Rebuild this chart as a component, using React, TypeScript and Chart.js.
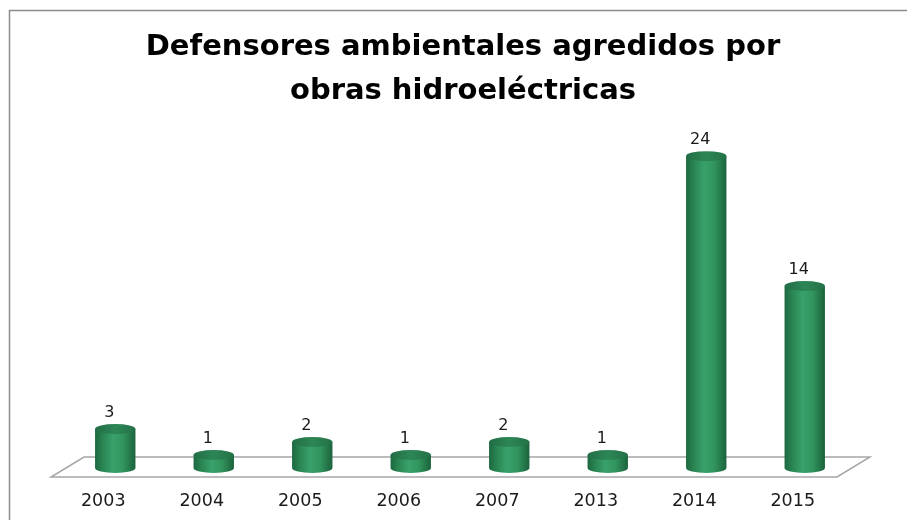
import React, { useEffect, useRef } from "react";
import { Chart, registerables } from "chart.js";

Chart.register(...registerables);

const categories = ["2003", "2004", "2005", "2006", "2007", "2013", "2014", "2015"];
const values = [3, 1, 2, 1, 2, 1, 24, 14];
const titleLines = ["Defensores ambientales agredidos por", "obras hidroeléctricas"];
const yMax = 27;

const DEPTH_X = 33;
const DEPTH_Y = -20;
const BAR_DX = 12;
const BAR_DY = -9;
const TITLE_SHIFT = 15;
const FONT = "'DejaVu Sans', Verdana, sans-serif";

const frame = {
  id: "frame",
  beforeDraw(chart: any) {
    const ctx = chart.ctx;
    ctx.save();
    ctx.fillStyle = "#ffffff";
    ctx.fillRect(0, 0, chart.width, chart.height);
    ctx.strokeStyle = "#8c8c8c";
    ctx.lineWidth = 1.5;
    ctx.beginPath();
    ctx.moveTo(9.5, chart.height);
    ctx.lineTo(9.5, 10.5);
    ctx.lineTo(chart.width, 10.5);
    ctx.stroke();
    ctx.restore();
  },
};

const titleShift = {
  id: "titleShift",
  afterLayout(chart: any) {
    const t = chart.titleBlock;
    if (t) {
      t.left += TITLE_SHIFT;
      t.right += TITLE_SHIFT;
    }
  },
};

const floor = {
  id: "floor",
  beforeDatasetsDraw(chart: any) {
    const { ctx, chartArea } = chart;
    const y0 = chart.scales.y.getPixelForValue(0);
    const l = chartArea.left - 3;
    const r = chartArea.right - 5;
    ctx.save();
    ctx.strokeStyle = "#a6a6a6";
    ctx.lineWidth = 1.5;
    ctx.beginPath();
    ctx.moveTo(l, y0);
    ctx.lineTo(r, y0);
    ctx.lineTo(r + DEPTH_X, y0 + DEPTH_Y);
    ctx.lineTo(l + DEPTH_X, y0 + DEPTH_Y);
    ctx.closePath();
    ctx.stroke();
    ctx.restore();
  },
};

const cylinders = {
  id: "cylinders",
  afterDatasetsDraw(chart: any) {
    const ctx = chart.ctx;
    const meta = chart.getDatasetMeta(0);
    const data = chart.data.datasets[0].data;
    ctx.save();
    meta.data.forEach((el: any, i: number) => {
      const cx = el.x + BAR_DX;
      const top = el.y + BAR_DY;
      const base = el.base + BAR_DY;
      const w = el.width;
      const rx = w / 2;
      const ry = 5;
      const left = cx - rx;
      const grad = ctx.createLinearGradient(left, 0, left + w, 0);
      grad.addColorStop(0, "#1d6840");
      grad.addColorStop(0.2, "#2a8653");
      grad.addColorStop(0.45, "#39a16c");
      grad.addColorStop(0.7, "#31945d");
      grad.addColorStop(1, "#1b623c");
      ctx.fillStyle = grad;
      ctx.beginPath();
      ctx.moveTo(left, top);
      ctx.lineTo(left, base);
      ctx.ellipse(cx, base, rx, ry, 0, Math.PI, 0, true);
      ctx.lineTo(left + w, top);
      ctx.closePath();
      ctx.fill();
      const capGrad = ctx.createLinearGradient(left, 0, left + w, 0);
      capGrad.addColorStop(0, "#226d46");
      capGrad.addColorStop(0.5, "#2d8655");
      capGrad.addColorStop(1, "#237148");
      ctx.fillStyle = capGrad;
      ctx.beginPath();
      ctx.ellipse(cx, top, rx, ry, 0, 0, Math.PI * 2);
      ctx.fill();
      ctx.fillStyle = "#1a1a1a";
      ctx.font = "16px " + FONT;
      ctx.textAlign = "center";
      ctx.textBaseline = "middle";
      ctx.fillText(String(data[i]), cx - 6, top - 16);
    });
    ctx.restore();
  },
};

export default function App() {
  const ref = useRef<HTMLCanvasElement | null>(null);
  useEffect(() => {
    if (!ref.current) return;
    const chart = new Chart(ref.current, {
      type: "bar",
      data: {
        labels: categories,
        datasets: [
          {
            data: values,
            backgroundColor: "rgba(0,0,0,0)",
            borderWidth: 0,
            categoryPercentage: 1,
            barPercentage: 0.41,
          },
        ],
      },
      options: {
        animation: false,
        responsive: false,
        maintainAspectRatio: false,
        layout: { padding: { top: 10, left: 54, right: 65, bottom: 0 } },
        plugins: {
          legend: { display: false },
          tooltip: { enabled: false },
          title: {
            display: true,
            text: titleLines,
            color: "#000000",
            font: { family: FONT, size: 29, weight: "bold", lineHeight: 1.52 },
            padding: { top: 15, bottom: 13 },
          },
        },
        scales: {
          x: {
            grid: { display: false, drawTicks: false },
            border: { display: false },
            ticks: {
              color: "#1a1a1a",
              padding: 14,
              font: { family: FONT, size: 17.5 },
            },
            afterFit(scale: any) {
              scale.height = 43;
            },
          },
          y: {
            display: false,
            min: 0,
            max: yMax,
          },
        },
      },
      plugins: [frame, titleShift, floor, cylinders],
    });
    return () => chart.destroy();
  }, []);
  return (
    <div style={{ position: "fixed", left: 0, top: 0, width: 907, height: 520 }}>
      <canvas ref={ref} width={907} height={520} style={{ display: "block" }} />
    </div>
  );
}
